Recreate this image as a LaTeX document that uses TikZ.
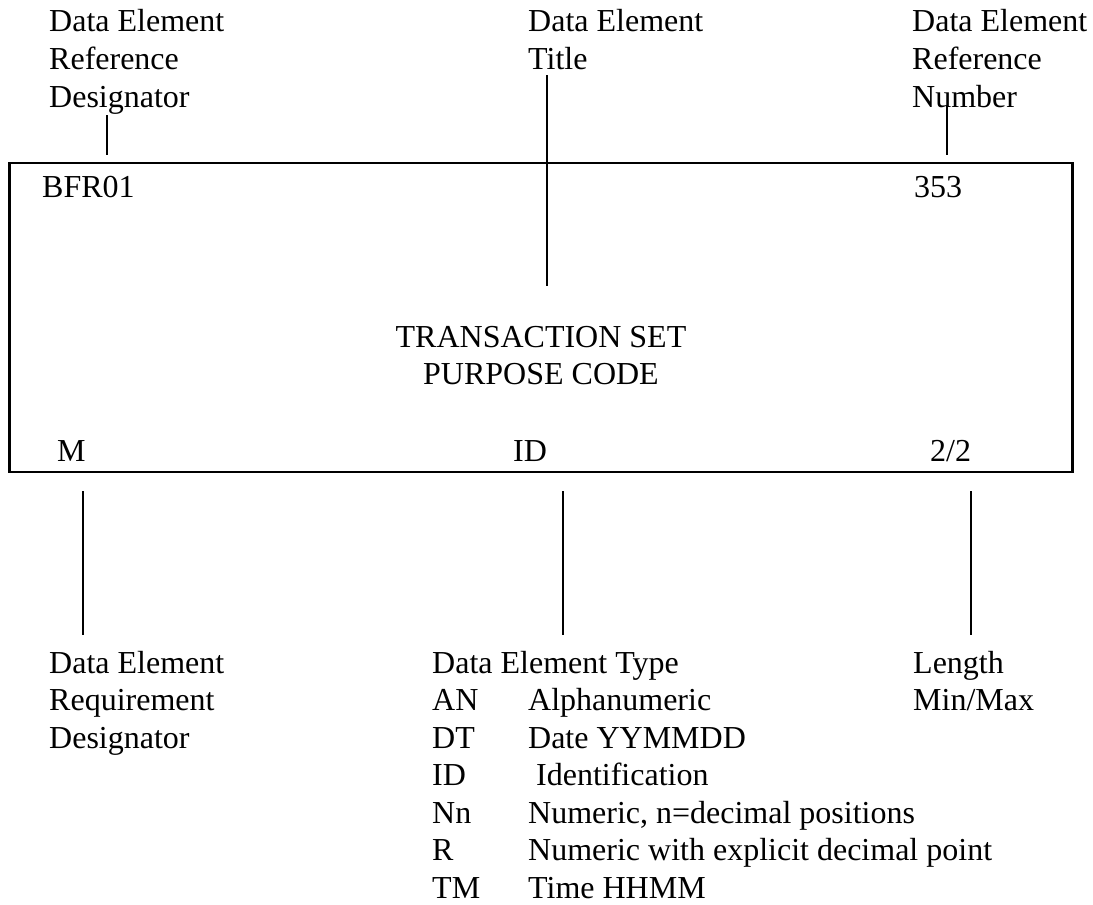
\documentclass[tikz,border=0pt]{standalone}
\usepackage{fontspec}
\setmainfont{Liberation Serif}
\begin{document}
\begin{tikzpicture}[x=1pt,y=-1pt,
  lbl/.style={inner sep=0pt, anchor=base west, font=\fontsize{32}{38}\selectfont},
  lbllist/.style={inner sep=0pt, anchor=base west, font=\fontsize{32}{37.5}\selectfont},
  lblc/.style={inner sep=0pt, anchor=base, font=\fontsize{32}{37}\selectfont},
  leader/.style={line width=1.8pt},
  frame/.style={draw, line width=2.6pt, minimum width=1063pt, minimum height=309pt, inner sep=0pt}]
\useasboundingbox (0,0) rectangle (1093,905);

% main box
\node[frame] (box) at (541,317.5) {};

% labels above
\node[lbl] (refdes) at (49,31) {\begin{tabular}[t]{@{}l@{}}Data Element\\Reference\\Designator\end{tabular}};
\node[lbl] (title) at (528,31) {\begin{tabular}[t]{@{}l@{}}Data Element\\Title\end{tabular}};
\node[lbl] (refnum) at (912,31) {\begin{tabular}[t]{@{}l@{}}Data Element\\Reference\\Number\end{tabular}};

% contents of box
\node[lbl] (bfr) at (42,197) {BFR01};
\node[lbl] (num) at (914,197) {353};
\node[lblc] (tsp) at (541,347) {\begin{tabular}[t]{@{}c@{}}TRANSACTION SET\\PURPOSE CODE\end{tabular}};
\node[lbl] (m) at (57,461) {M};
\node[lbl] (id) at (513,461) {ID};
\node[lbl] (len) at (930,461) {2/2};

% labels below
\node[lbllist] (reqdes) at (49,673) {\begin{tabular}[t]{@{}l@{}}Data Element\\Requirement\\Designator\end{tabular}};
\node[lbllist] (types) at (432,673) {\begin{tabular}[t]{@{}p{96pt}@{}l@{}}
\multicolumn{2}{@{}l@{}}{Data Element Type}\\
AN & Alphanumeric\\
DT & Date YYMMDD\\
ID & \hspace{8pt}Identification\\
Nn & Numeric, n=decimal positions\\
R & Numeric with explicit decimal point\\
TM & Time HHMM
\end{tabular}};
\node[lbllist] (minmax) at (913,673) {\begin{tabular}[t]{@{}l@{}}Length\\Min/Max\end{tabular}};

% leader lines
\coordinate (a1) at (107,115); \coordinate (a2) at (107,155);
\coordinate (b1) at (547,75);  \coordinate (b2) at (547,286);
\coordinate (c1) at (947,105); \coordinate (c2) at (947,155);
\coordinate (d1) at (83,491);  \coordinate (d2) at (83,635);
\coordinate (e1) at (563,491); \coordinate (e2) at (563,635);
\coordinate (f1) at (971,491); \coordinate (f2) at (971,635);
\draw[leader] (a1) -- (a2);
\draw[leader] (b1) -- (b2);
\draw[leader] (c1) -- (c2);
\draw[leader] (d1) -- (d2);
\draw[leader] (e1) -- (e2);
\draw[leader] (f1) -- (f2);
\end{tikzpicture}
\end{document}
